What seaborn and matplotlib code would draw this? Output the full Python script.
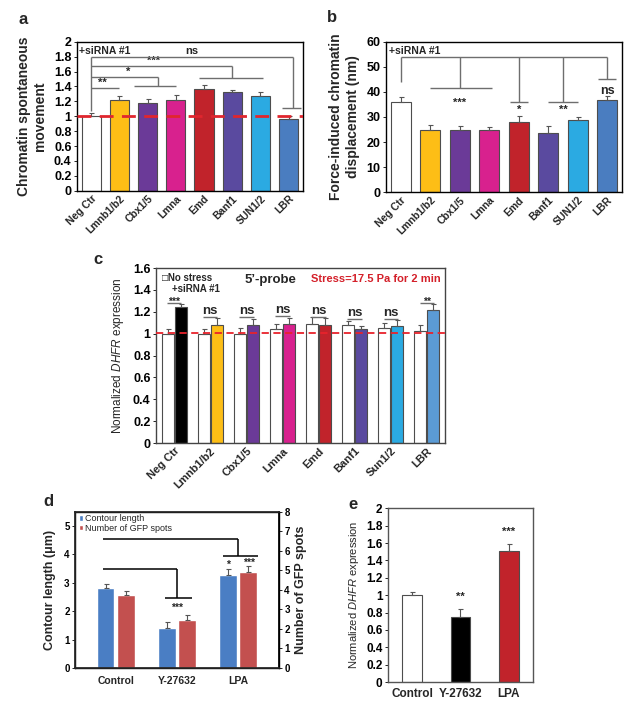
import numpy as np
import pandas as pd
import matplotlib
matplotlib.use('Agg')
import matplotlib.pyplot as plt
import seaborn as sns

# ---- data ----
genes_ab = ['Neg Ctr', 'Lmnb1/b2', 'Cbx1/5', 'Lmna', 'Emd', 'Banf1', 'SUN1/2', 'LBR']
gene_colors = ['#FFFFFF', '#FDBE16', '#6B3A98', '#D8218E', '#C1232B', '#5A4A9F', '#2BAAE2', '#4A7DC0']

movement = [1.00, 1.22, 1.18, 1.22, 1.37, 1.32, 1.27, 0.97]
movement_err = [0.04, 0.05, 0.05, 0.07, 0.05, 0.03, 0.05, 0.04]

displacement = [36.0, 25.0, 24.8, 24.8, 27.8, 23.8, 28.8, 36.8]
displacement_err = [2.0, 2.0, 1.8, 1.2, 2.5, 2.8, 1.2, 1.5]

genes_c = ['Neg Ctr', 'Lmnb1/b2', 'Cbx1/5', 'Lmna', 'Emd', 'Banf1', 'Sun1/2', 'LBR']
c_colors = ['#000000', '#FDBE16', '#6B3A98', '#D8218E', '#C1232B', '#5A4A9F', '#2BAAE2', '#5B9BD5']
dhfr_nostress = [1.00, 1.00, 1.00, 1.04, 1.09, 1.08, 1.05, 1.02]
dhfr_nostress_err = [0.04, 0.045, 0.05, 0.05, 0.06, 0.04, 0.05, 0.06]
dhfr_sirna = [1.24, 1.08, 1.08, 1.09, 1.08, 1.04, 1.07, 1.22]
dhfr_sirna_err = [0.03, 0.06, 0.05, 0.05, 0.06, 0.03, 0.055, 0.055]
sig_c = ['***', 'ns', 'ns', 'ns', 'ns', 'ns', 'ns', '**']
sig_c_level = [1.28, 1.15, 1.15, 1.16, 1.15, 1.13, 1.13, 1.28]

conditions = ['Control', 'Y-27632', 'LPA']
contour = [2.82, 1.41, 3.28]
contour_err = [0.12, 0.21, 0.19]
gfp_spots = [3.76, 2.43, 4.92]
gfp_err = [0.19, 0.26, 0.29]

dhfr_e = [1.00, 0.75, 1.51]
dhfr_e_err = [0.04, 0.09, 0.08]
e_colors = ['#FFFFFF', '#000000', '#C1232B']

# ---- style ----
sns.set_theme(style='white')
plt.rcParams['font.family'] = ['Liberation Sans', 'DejaVu Sans']
plt.rcParams['mathtext.fontset'] = 'custom'
plt.rcParams['mathtext.it'] = 'Liberation Sans:italic'
plt.rcParams['mathtext.rm'] = 'Liberation Sans'

EDGE = '#4d4d4d'
LINE = '#6e6e6e'


def style_axes(ax, color='black', lw=1.0):
    for s in ax.spines.values():
        s.set_visible(True)
        s.set_color(color)
        s.set_linewidth(lw)
    ax.tick_params(axis='y', length=2, width=0.6, direction='out', left=True, pad=2, colors='black')
    ax.tick_params(axis='x', length=0, pad=2)


def add_errors(ax, bars, err, lw=0.8):
    xs = [b.get_x() + b.get_width() / 2 for b in bars]
    ys = [b.get_height() for b in bars]
    ax.errorbar(xs, ys, yerr=[np.zeros(len(err)), err], fmt='none',
                ecolor='#555555', elinewidth=lw, capsize=1.8, capthick=lw, zorder=3)


def fmt_ticks(ax, ticks, size, bold=True):
    ax.set_yticks(ticks)
    ax.set_yticklabels([f'{t:g}' for t in ticks], fontsize=size,
                       fontweight='bold' if bold else 'normal')


def seg(ax, xs, ys):
    ax.plot(xs, ys, color=LINE, lw=1.0, solid_capstyle='butt', zorder=4)


fig = plt.figure(figsize=(6.32, 7.09), dpi=100)

# ---- panel a ----
ax_a = fig.add_axes([0.122, 0.731, 0.357, 0.210])
sns.barplot(x=genes_ab, y=movement, hue=genes_ab, palette=gene_colors, legend=False,
            saturation=1, width=0.68, edgecolor=EDGE, linewidth=0.8, ax=ax_a)
add_errors(ax_a, ax_a.patches, movement_err)
ax_a.axhline(1.0, color='#E0262E', lw=2.0, dashes=(5, 3), zorder=5)
ax_a.set_xlim(-0.5, 7.5)
ax_a.set_ylim(0, 2)
style_axes(ax_a)
fmt_ticks(ax_a, np.round(np.arange(0, 2.01, 0.2), 1), 9)
ax_a.set_xticks(range(8))
ax_a.set_xticklabels(genes_ab, rotation=45, ha='right', rotation_mode='anchor',
                     fontsize=7.5, fontweight='bold')
ax_a.set_ylabel('Chromatin spontaneous\nmovement', fontsize=10, fontweight='bold', labelpad=5)
ax_a.text(0.01, 0.97, '+siRNA #1', transform=ax_a.transAxes, fontsize=7.5,
          fontweight='bold', va='top')
seg(ax_a, [0, 0], [1.07, 1.80])
seg(ax_a, [0, 1], [1.375, 1.375])
seg(ax_a, [0, 2.36], [1.53, 1.53])
seg(ax_a, [0, 5.0], [1.67, 1.67])
seg(ax_a, [0, 7.15], [1.80, 1.80])
seg(ax_a, [1.5, 3.0], [1.40, 1.40])
seg(ax_a, [2.36, 2.36], [1.40, 1.53])
seg(ax_a, [3.83, 6.1], [1.51, 1.51])
seg(ax_a, [5.0, 5.0], [1.51, 1.67])
seg(ax_a, [6.75, 7.45], [1.11, 1.11])
seg(ax_a, [7.15, 7.15], [1.11, 1.80])
for x, y, s in [(0.4, 1.38, '**'), (1.3, 1.535, '*'), (2.2, 1.675, '***'), (3.55, 1.81, 'ns')]:
    ax_a.text(x, y, s, ha='center', va='bottom', fontsize=8, fontweight='bold')

# ---- panel b ----
ax_b = fig.add_axes([0.611, 0.729, 0.373, 0.212])
sns.barplot(x=genes_ab, y=displacement, hue=genes_ab, palette=gene_colors, legend=False,
            saturation=1, width=0.68, edgecolor=EDGE, linewidth=0.8, ax=ax_b)
add_errors(ax_b, ax_b.patches, displacement_err)
ax_b.set_xlim(-0.5, 7.5)
ax_b.set_ylim(0, 60)
style_axes(ax_b)
fmt_ticks(ax_b, np.arange(0, 61, 10), 9)
ax_b.set_xticks(range(8))
ax_b.set_xticklabels(genes_ab, rotation=45, ha='right', rotation_mode='anchor',
                     fontsize=7.5, fontweight='bold')
ax_b.set_ylabel('Force-induced chromatin\ndisplacement (nm)', fontsize=10, fontweight='bold', labelpad=5)
ax_b.text(0.01, 0.97, '+siRNA #1', transform=ax_b.transAxes, fontsize=7.5,
          fontweight='bold', va='top')
seg(ax_b, [0, 7], [54, 54])
seg(ax_b, [0, 0], [44, 54])
seg(ax_b, [2, 2], [41.6, 54])
seg(ax_b, [1, 3.1], [41.6, 41.6])
seg(ax_b, [4, 4], [36, 54])
seg(ax_b, [3.7, 4.3], [36, 36])
seg(ax_b, [5.5, 5.5], [36, 54])
seg(ax_b, [5.0, 6.0], [36, 36])
seg(ax_b, [7, 7], [45, 54])
seg(ax_b, [6.7, 7.3], [45, 45])
for x, y, s in [(2, 35.5, '***'), (4, 33, '*'), (5.5, 33, '**'), (7, 40.5, 'ns')]:
    ax_b.text(x, y, s, ha='center', va='center', fontsize=8 if s != 'ns' else 9,
              fontweight='bold')

# ---- panel c ----
ax_c = fig.add_axes([0.247, 0.375, 0.457, 0.247])
df_c = pd.DataFrame({
    'gene': genes_c * 2,
    'cond': ['No stress'] * 8 + ['+siRNA #1'] * 8,
    'value': dhfr_nostress + dhfr_sirna,
})
sns.barplot(data=df_c, x='gene', y='value', hue='cond', palette=['white', 'white'],
            legend=False, saturation=1, width=0.72, gap=0.06, edgecolor=EDGE,
            linewidth=0.8, ax=ax_c)
for bar, col in zip(ax_c.containers[1], c_colors):
    bar.set_facecolor(col)
add_errors(ax_c, ax_c.containers[0], dhfr_nostress_err)
add_errors(ax_c, ax_c.containers[1], dhfr_sirna_err)
ax_c.axhline(1.01, color='#E8222B', lw=1.3, dashes=(4, 2.5), zorder=5)
ax_c.set_xlim(-0.5, 7.5)
ax_c.set_ylim(0, 1.6)
style_axes(ax_c, color='#444444')
fmt_ticks(ax_c, np.round(np.arange(0, 1.61, 0.2), 1), 9)
ax_c.set_xticks(range(8))
ax_c.set_xticklabels(genes_c, rotation=45, ha='right', rotation_mode='anchor',
                     fontsize=8, fontweight='bold')
ax_c.set_ylabel('Normalized $\\it{DHFR}$ expression', fontsize=8.5, labelpad=5)
ax_c.set_xlabel('')
for i, (s, lv) in enumerate(zip(sig_c, sig_c_level)):
    seg(ax_c, [i - 0.2, i + 0.2], [lv, lv])
    if s == 'ns':
        ax_c.text(i, lv + 0.005, s, ha='center', va='bottom', fontsize=9.5, fontweight='bold')
    else:
        ax_c.text(i, lv - 0.015, s, ha='center', va='baseline', fontsize=7.5, fontweight='bold')
ax_c.text(0.02, 0.945, '\u25a1No stress', transform=ax_c.transAxes, fontsize=7,
          fontweight='bold', va='center')
ax_c.text(0.055, 0.88, '+siRNA #1', transform=ax_c.transAxes, fontsize=7,
          fontweight='bold', va='center')
ax_c.text(0.395, 0.93, "5\u2019-probe", transform=ax_c.transAxes, fontsize=9.5,
          fontweight='bold', va='center', ha='center')
ax_c.text(0.985, 0.935, 'Stress=17.5 Pa for 2 min', transform=ax_c.transAxes, fontsize=8,
          fontweight='bold', va='center', ha='right', color='#D4202A')

# ---- panel d ----
ax_d = fig.add_axes([0.119, 0.058, 0.322, 0.220])
ax_d2 = ax_d.twinx()
xd = np.arange(len(conditions))
bl = ax_d.bar(xd - 0.165, contour, 0.29, color='#4A7EC4', label='Contour length', zorder=2)
rd = ax_d2.bar(xd + 0.165, gfp_spots, 0.29, color='#C3504F', label='Number of GFP spots', zorder=2)
add_errors(ax_d, bl, contour_err)
add_errors(ax_d2, rd, gfp_err)
ax_d.set_xlim(-0.66, 2.66)
ax_d.set_ylim(0, 5.5)
ax_d2.set_ylim(0, 8)
style_axes(ax_d)
ax_d2.spines['right'].set_color('black')
fmt_ticks(ax_d, np.arange(0, 6, 1), 7)
ax_d2.set_yticks(np.arange(0, 9, 1))
ax_d2.set_yticklabels([str(t) for t in range(9)], fontsize=7, fontweight='bold')
ax_d2.tick_params(axis='y', length=2, width=0.6, pad=2, colors='black')
ax_d.set_xticks(xd)
ax_d.set_xticklabels(conditions, fontsize=7.5, fontweight='bold')
ax_d.tick_params(axis='x', pad=6)
ax_d.set_ylabel('Contour length (\u03bcm)', fontsize=9, fontweight='bold', labelpad=6)
ax_d2.set_ylabel('Number of GFP spots', fontsize=9, fontweight='bold', labelpad=4)
dl = dict(color='black', lw=1.1, solid_capstyle='butt', zorder=4)
ax_d.plot([-0.2, 1.0], [3.5, 3.5], **dl)
ax_d.plot([1.0, 1.0], [2.48, 3.5], **dl)
ax_d.plot([0.8, 1.25], [2.48, 2.48], **dl)
ax_d.plot([-0.2, 2.0], [4.54, 4.54], **dl)
ax_d.plot([2.0, 2.0], [3.95, 4.54], **dl)
ax_d.plot([1.75, 2.33], [3.95, 3.95], **dl)
ax_d.text(1.0, 2.1, '***', ha='center', va='center', fontsize=7.5, fontweight='bold')
ax_d.text(2 - 0.165, 3.62, '*', ha='center', va='center', fontsize=7.5, fontweight='bold')
ax_d.text(2 + 0.18, 3.7, '***', ha='center', va='center', fontsize=7.5, fontweight='bold')
ax_d.legend(handles=[bl, rd], loc='upper left', bbox_to_anchor=(-0.01, 1.02), fontsize=6.5,
            frameon=False, handlelength=0.5, handleheight=0.5, handletextpad=0.2,
            labelspacing=0.1, borderaxespad=0.2)

# ---- panel e ----
ax_e = fig.add_axes([0.614, 0.038, 0.229, 0.245])
sns.barplot(x=conditions, y=dhfr_e, hue=conditions, palette=e_colors, legend=False,
            saturation=1, width=0.41, edgecolor=EDGE, linewidth=0.8, ax=ax_e)
add_errors(ax_e, ax_e.patches, dhfr_e_err)
ax_e.set_xlim(-0.5, 2.5)
ax_e.set_ylim(0, 2)
style_axes(ax_e, color='#555555')
fmt_ticks(ax_e, np.round(np.arange(0, 2.01, 0.2), 1), 8.5)
ax_e.set_xticks(range(3))
ax_e.set_xticklabels(conditions, fontsize=8.5, fontweight='bold')
ax_e.tick_params(axis='x', pad=4)
ax_e.set_ylabel('Normalized $\\it{DHFR}$ expression', fontsize=8, labelpad=4)
ax_e.text(1, 0.98, '**', ha='center', va='center', fontsize=8, fontweight='bold')
ax_e.text(2, 1.73, '***', ha='center', va='center', fontsize=8, fontweight='bold')

# ---- panel letters ----
for x, y, s in [(0.030, 0.972, 'a'), (0.517, 0.976, 'b'), (0.147, 0.634, 'c'),
                (0.069, 0.292, 'd'), (0.552, 0.289, 'e')]:
    fig.text(x, y, s, fontsize=12, fontweight='bold', va='center')

fig.savefig('out.png', dpi=100)
